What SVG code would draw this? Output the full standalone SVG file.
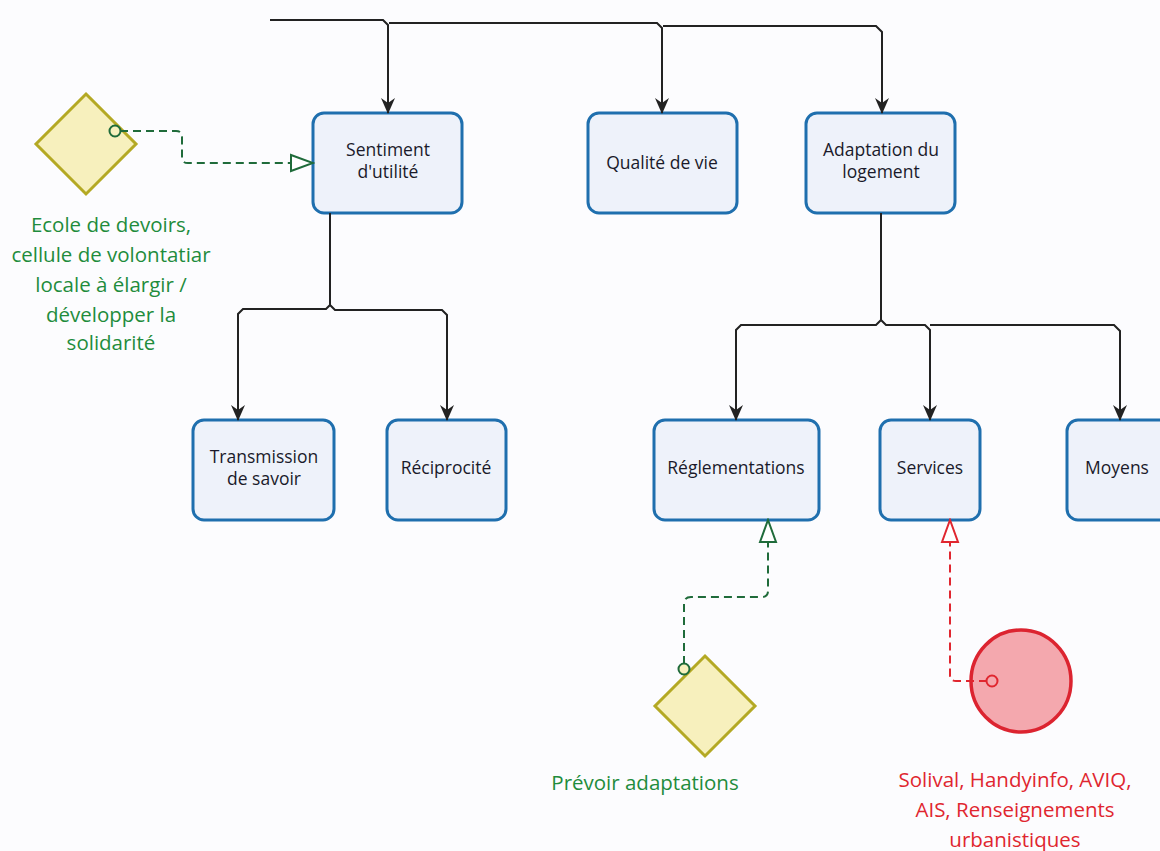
<svg xmlns="http://www.w3.org/2000/svg" width="1160" height="851" viewBox="0 0 1160 851">
  <style>
    .box { fill: #eef2fa; stroke: #1f6fae; stroke-width: 3; }
    .lbl { font-family: "Open Sans", "Noto Sans", sans-serif; font-size: 17.5px; fill: #1a1a2a; text-anchor: middle; }
    .link { fill: none; stroke: #222; stroke-width: 2; }
    .dg { fill: none; stroke: #1f6b3a; stroke-width: 2; stroke-dasharray: 8 5; }
    .dr { fill: none; stroke: #e0262f; stroke-width: 2; stroke-dasharray: 8 5; }
    .diamond { fill: #f7f0bd; stroke: #b4a924; stroke-width: 3; }
    .green { font-family: "Open Sans", "Noto Sans", sans-serif; font-size: 20.5px; fill: #1f8c3c; text-anchor: middle; }
    .red { font-family: "Open Sans", "Noto Sans", sans-serif; font-size: 20.5px; fill: #e0262f; text-anchor: middle; }
  </style>
  <defs>
    <marker id="arrow" markerUnits="userSpaceOnUse" viewBox="0 0 16 16" refX="15" refY="8" markerWidth="16" markerHeight="16" orient="auto">
      <path d="M0,1 L16,8 L0,15 L5,8 z" fill="#222"/>
    </marker>
    <marker id="triG" markerUnits="userSpaceOnUse" viewBox="0 0 26 20" refX="24" refY="10" markerWidth="26" markerHeight="20" orient="auto">
      <path d="M2,2 L24,10 L2,18 z" fill="#ffffff" stroke="#1f6b3a" stroke-width="2"/>
    </marker>
    <marker id="triR" markerUnits="userSpaceOnUse" viewBox="0 0 26 20" refX="24" refY="10" markerWidth="26" markerHeight="20" orient="auto">
      <path d="M2,2 L24,10 L2,18 z" fill="#ffffff" stroke="#e0262f" stroke-width="2"/>
    </marker>
  </defs>

  <rect x="0" y="0" width="1160" height="851" fill="#fcfcfe"/>

  <!-- process boxes -->
  <g id="sentiment">
    <rect class="box" x="313" y="113" width="149" height="100" rx="11"/>
    <text class="lbl" x="388" y="156">Sentiment</text>
    <text class="lbl" x="388" y="178">d'utilité</text>
  </g>
  <g id="qualite">
    <rect class="box" x="588" y="113" width="149" height="100" rx="11"/>
    <text class="lbl" x="662" y="169">Qualité de vie</text>
  </g>
  <g id="adaptation">
    <rect class="box" x="806" y="113" width="149" height="100" rx="11"/>
    <text class="lbl" x="881" y="156">Adaptation du</text>
    <text class="lbl" x="881" y="178">logement</text>
  </g>
  <g id="transmission">
    <rect class="box" x="193" y="420" width="141" height="100" rx="11"/>
    <text class="lbl" x="264" y="463">Transmission</text>
    <text class="lbl" x="264" y="485">de savoir</text>
  </g>
  <g id="reciprocite">
    <rect class="box" x="387" y="420" width="119" height="100" rx="11"/>
    <text class="lbl" x="446" y="474">Réciprocité</text>
  </g>
  <g id="reglementations">
    <rect class="box" x="654" y="420" width="165" height="100" rx="11"/>
    <text class="lbl" x="736" y="474">Réglementations</text>
  </g>
  <g id="services">
    <rect class="box" x="880" y="420" width="100" height="100" rx="11"/>
    <text class="lbl" x="930" y="474">Services</text>
  </g>
  <g id="moyens">
    <rect class="box" x="1067" y="420" width="110" height="100" rx="11"/>
    <text class="lbl" x="1117" y="474">Moyens</text>
  </g>

  <!-- decision: school / volunteers -->
  <g id="ecole">
    <polygon class="diamond" points="86,94 136,144 86,194 36,144"/>
    <text class="green" x="111" y="232">Ecole de devoirs,</text>
    <text class="green" x="111" y="262">cellule de volontatiar</text>
    <text class="green" x="111" y="292">locale à élargir /</text>
    <text class="green" x="111" y="322">développer la</text>
    <text class="green" x="111" y="350">solidarité</text>
  </g>

  <!-- decision: planned adaptations -->
  <g id="prevoir">
    <polygon class="diamond" points="705,656 755,706 705,756 655,706"/>
    <text class="green" x="645" y="790">Prévoir adaptations</text>
  </g>

  <!-- external resources -->
  <g id="ressources">
    <ellipse cx="1021" cy="681" rx="50" ry="51" fill="#f4a8ae" stroke="#dc2430" stroke-width="3.5"/>
    <text class="red" x="1015" y="787">Solival, Handyinfo, AVIQ,</text>
    <text class="red" x="1015" y="817">AIS, Renseignements</text>
    <text class="red" x="1015" y="847">urbanistiques</text>
  </g>

  <!-- connectors -->
  <g id="connectors">
    <path class="link" d="M270,20 H383 L388,25 V113" marker-end="url(#arrow)"/>
    <path class="link" d="M389,23 H657 L662,28 V113" marker-end="url(#arrow)"/>
    <path class="link" d="M663,26 H876 L882,32 V113" marker-end="url(#arrow)"/>

    <path class="link" d="M330,213 V305 L326,309 H243 L238,314 V420" marker-end="url(#arrow)"/>
    <path class="link" d="M330,305 L335,310 H442 L447,315 V420" marker-end="url(#arrow)"/>

    <path class="link" d="M881,213 V320 L876,325 H741 L736,330 V420" marker-end="url(#arrow)"/>
    <path class="link" d="M881,320 L886,325 H925 L930,330 V420" marker-end="url(#arrow)"/>
    <path class="link" d="M930,325 H1114 L1120,331 V420" marker-end="url(#arrow)"/>

    <path class="dg" d="M120,131 H176 Q182,131 182,137 V158 Q182,163 188,163 H313" marker-end="url(#triG)"/>
    <circle cx="115" cy="131" r="5.5" fill="#f7f0bd" stroke="#1f6b3a" stroke-width="2"/>

    <path class="dg" d="M684,664 V604 Q684,597 691,597 H762 Q768,597 768,591 V520" marker-end="url(#triG)"/>
    <circle cx="684" cy="669" r="5.5" fill="#f7f0bd" stroke="#1f6b3a" stroke-width="2"/>

    <path class="dr" d="M987,681 H956 Q950,681 950,675 V520" marker-end="url(#triR)"/>
    <circle cx="992" cy="681" r="5.5" fill="#f4a8ae" stroke="#e0262f" stroke-width="2"/>
  </g>
</svg>
